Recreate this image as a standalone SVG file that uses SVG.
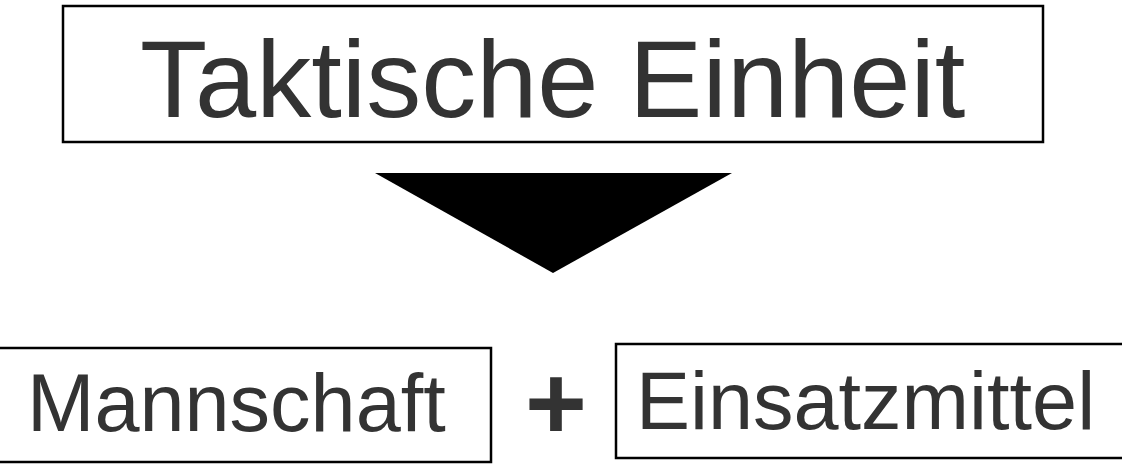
<svg xmlns="http://www.w3.org/2000/svg" width="1122" height="471" viewBox="0 0 1122 471">
<style>
.box{fill:#ffffff;stroke:#000000;stroke-width:2.5}
.lbl{font-family:"Liberation Sans",Arial,sans-serif;fill:#333333}
</style>
<rect width="1122" height="471" fill="#ffffff"/>
<g id="node-taktische-einheit">
<rect class="box" x="63" y="6" width="980" height="136"/>
<text class="lbl" x="140" y="117" font-size="110">Taktische Einheit</text>
</g>
<g id="connectors">
<polygon points="375,173 732,173 553,273" fill="#000000"/>
</g>
<g id="node-mannschaft">
<rect class="box" x="-3" y="348" width="494" height="114"/>
<text class="lbl" x="27" y="431" font-size="81">Mannschaft</text>
</g>
<g id="plus">
<text class="lbl" x="556" y="439" font-size="106" font-weight="bold" text-anchor="middle">+</text>
</g>
<g id="node-einsatzmittel">
<rect class="box" x="616" y="344" width="520" height="114"/>
<text class="lbl" x="636" y="429" font-size="81">Einsatzmittel</text>
</g>
</svg>
